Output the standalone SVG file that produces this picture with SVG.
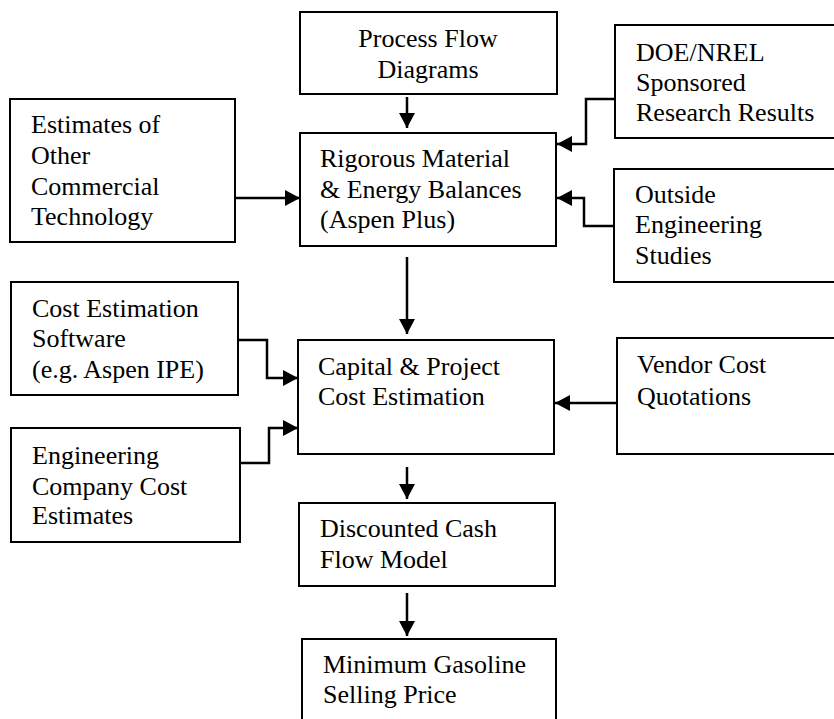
<svg xmlns="http://www.w3.org/2000/svg" width="834" height="719" viewBox="0 0 834 719">
<defs>
<style>
.box{fill:#fff;stroke:#000;stroke-width:2}
text{font-family:"Liberation Serif","Times New Roman",serif;font-size:26px;fill:#000}
.c{fill:none;stroke:#000;stroke-width:2.5}
</style>
<marker id="ah" markerWidth="15" markerHeight="16" refX="15" refY="8" orient="auto" markerUnits="userSpaceOnUse">
<path d="M0,0 L15,8 L0,16 Z" fill="#000"/>
</marker>
</defs>
<rect width="834" height="719" fill="#fff"/>
<g id="process-flow">
<rect class="box" x="300" y="12" width="257" height="82"/>
<text x="428" y="47" text-anchor="middle">Process Flow</text>
<text x="428" y="78" text-anchor="middle">Diagrams</text>
</g>
<g id="rigorous">
<rect class="box" x="300" y="133" width="256" height="113"/>
<text x="320" y="167">Rigorous Material</text>
<text x="320" y="198">&amp; Energy Balances</text>
<text x="320" y="228">(Aspen Plus)</text>
</g>
<g id="estimates-other">
<rect class="box" x="10" y="99" width="225" height="143"/>
<text x="31" y="133">Estimates of</text>
<text x="31" y="164">Other</text>
<text x="31" y="195">Commercial</text>
<text x="31" y="225">Technology</text>
</g>
<g id="doe-nrel">
<rect class="box" x="615" y="25" width="230" height="113"/>
<text x="636" y="61">DOE/NREL</text>
<text x="636" y="91">Sponsored</text>
<text x="636" y="121">Research Results</text>
</g>
<g id="outside-engineering">
<rect class="box" x="614" y="169" width="230" height="113"/>
<text x="635" y="203">Outside</text>
<text x="635" y="233">Engineering</text>
<text x="635" y="264">Studies</text>
</g>
<g id="cost-software">
<rect class="box" x="11" y="282" width="227" height="113"/>
<text x="32" y="317">Cost Estimation</text>
<text x="32" y="347">Software</text>
<text x="32" y="378">(e.g. Aspen IPE)</text>
</g>
<g id="capital-cost">
<rect class="box" x="298" y="340" width="256" height="114"/>
<text x="318" y="375">Capital &amp; Project</text>
<text x="318" y="405">Cost Estimation</text>
</g>
<g id="vendor-cost">
<rect class="box" x="617" y="338" width="230" height="116"/>
<text x="637" y="373">Vendor Cost</text>
<text x="637" y="405">Quotations</text>
</g>
<g id="engineering-company">
<rect class="box" x="11" y="428" width="229" height="114"/>
<text x="32" y="464">Engineering</text>
<text x="32" y="495">Company Cost</text>
<text x="32" y="524">Estimates</text>
</g>
<g id="discounted-cash">
<rect class="box" x="299" y="503" width="256" height="83"/>
<text x="320" y="537">Discounted Cash</text>
<text x="320" y="568">Flow Model</text>
</g>
<g id="minimum-price">
<rect class="box" x="302" y="639" width="254" height="100"/>
<text x="323" y="673">Minimum Gasoline</text>
<text x="323" y="703">Selling Price</text>
</g>
<g id="connectors">
<path class="c" d="M407,97 L407,128" marker-end="url(#ah)"/>
<path class="c" d="M235,198 L300,198" marker-end="url(#ah)"/>
<path class="c" d="M615,99 L586,99 L586,144 L557,144" marker-end="url(#ah)"/>
<path class="c" d="M614,226 L584,226 L584,198 L557,198" marker-end="url(#ah)"/>
<path class="c" d="M407,257 L407,334" marker-end="url(#ah)"/>
<path class="c" d="M238,340 L267,340 L267,378 L298,378" marker-end="url(#ah)"/>
<path class="c" d="M240,463 L269,463 L269,428 L298,428" marker-end="url(#ah)"/>
<path class="c" d="M617,403 L555,403" marker-end="url(#ah)"/>
<path class="c" d="M407,467 L407,499" marker-end="url(#ah)"/>
<path class="c" d="M407,593 L407,636" marker-end="url(#ah)"/>
</g>
</svg>
